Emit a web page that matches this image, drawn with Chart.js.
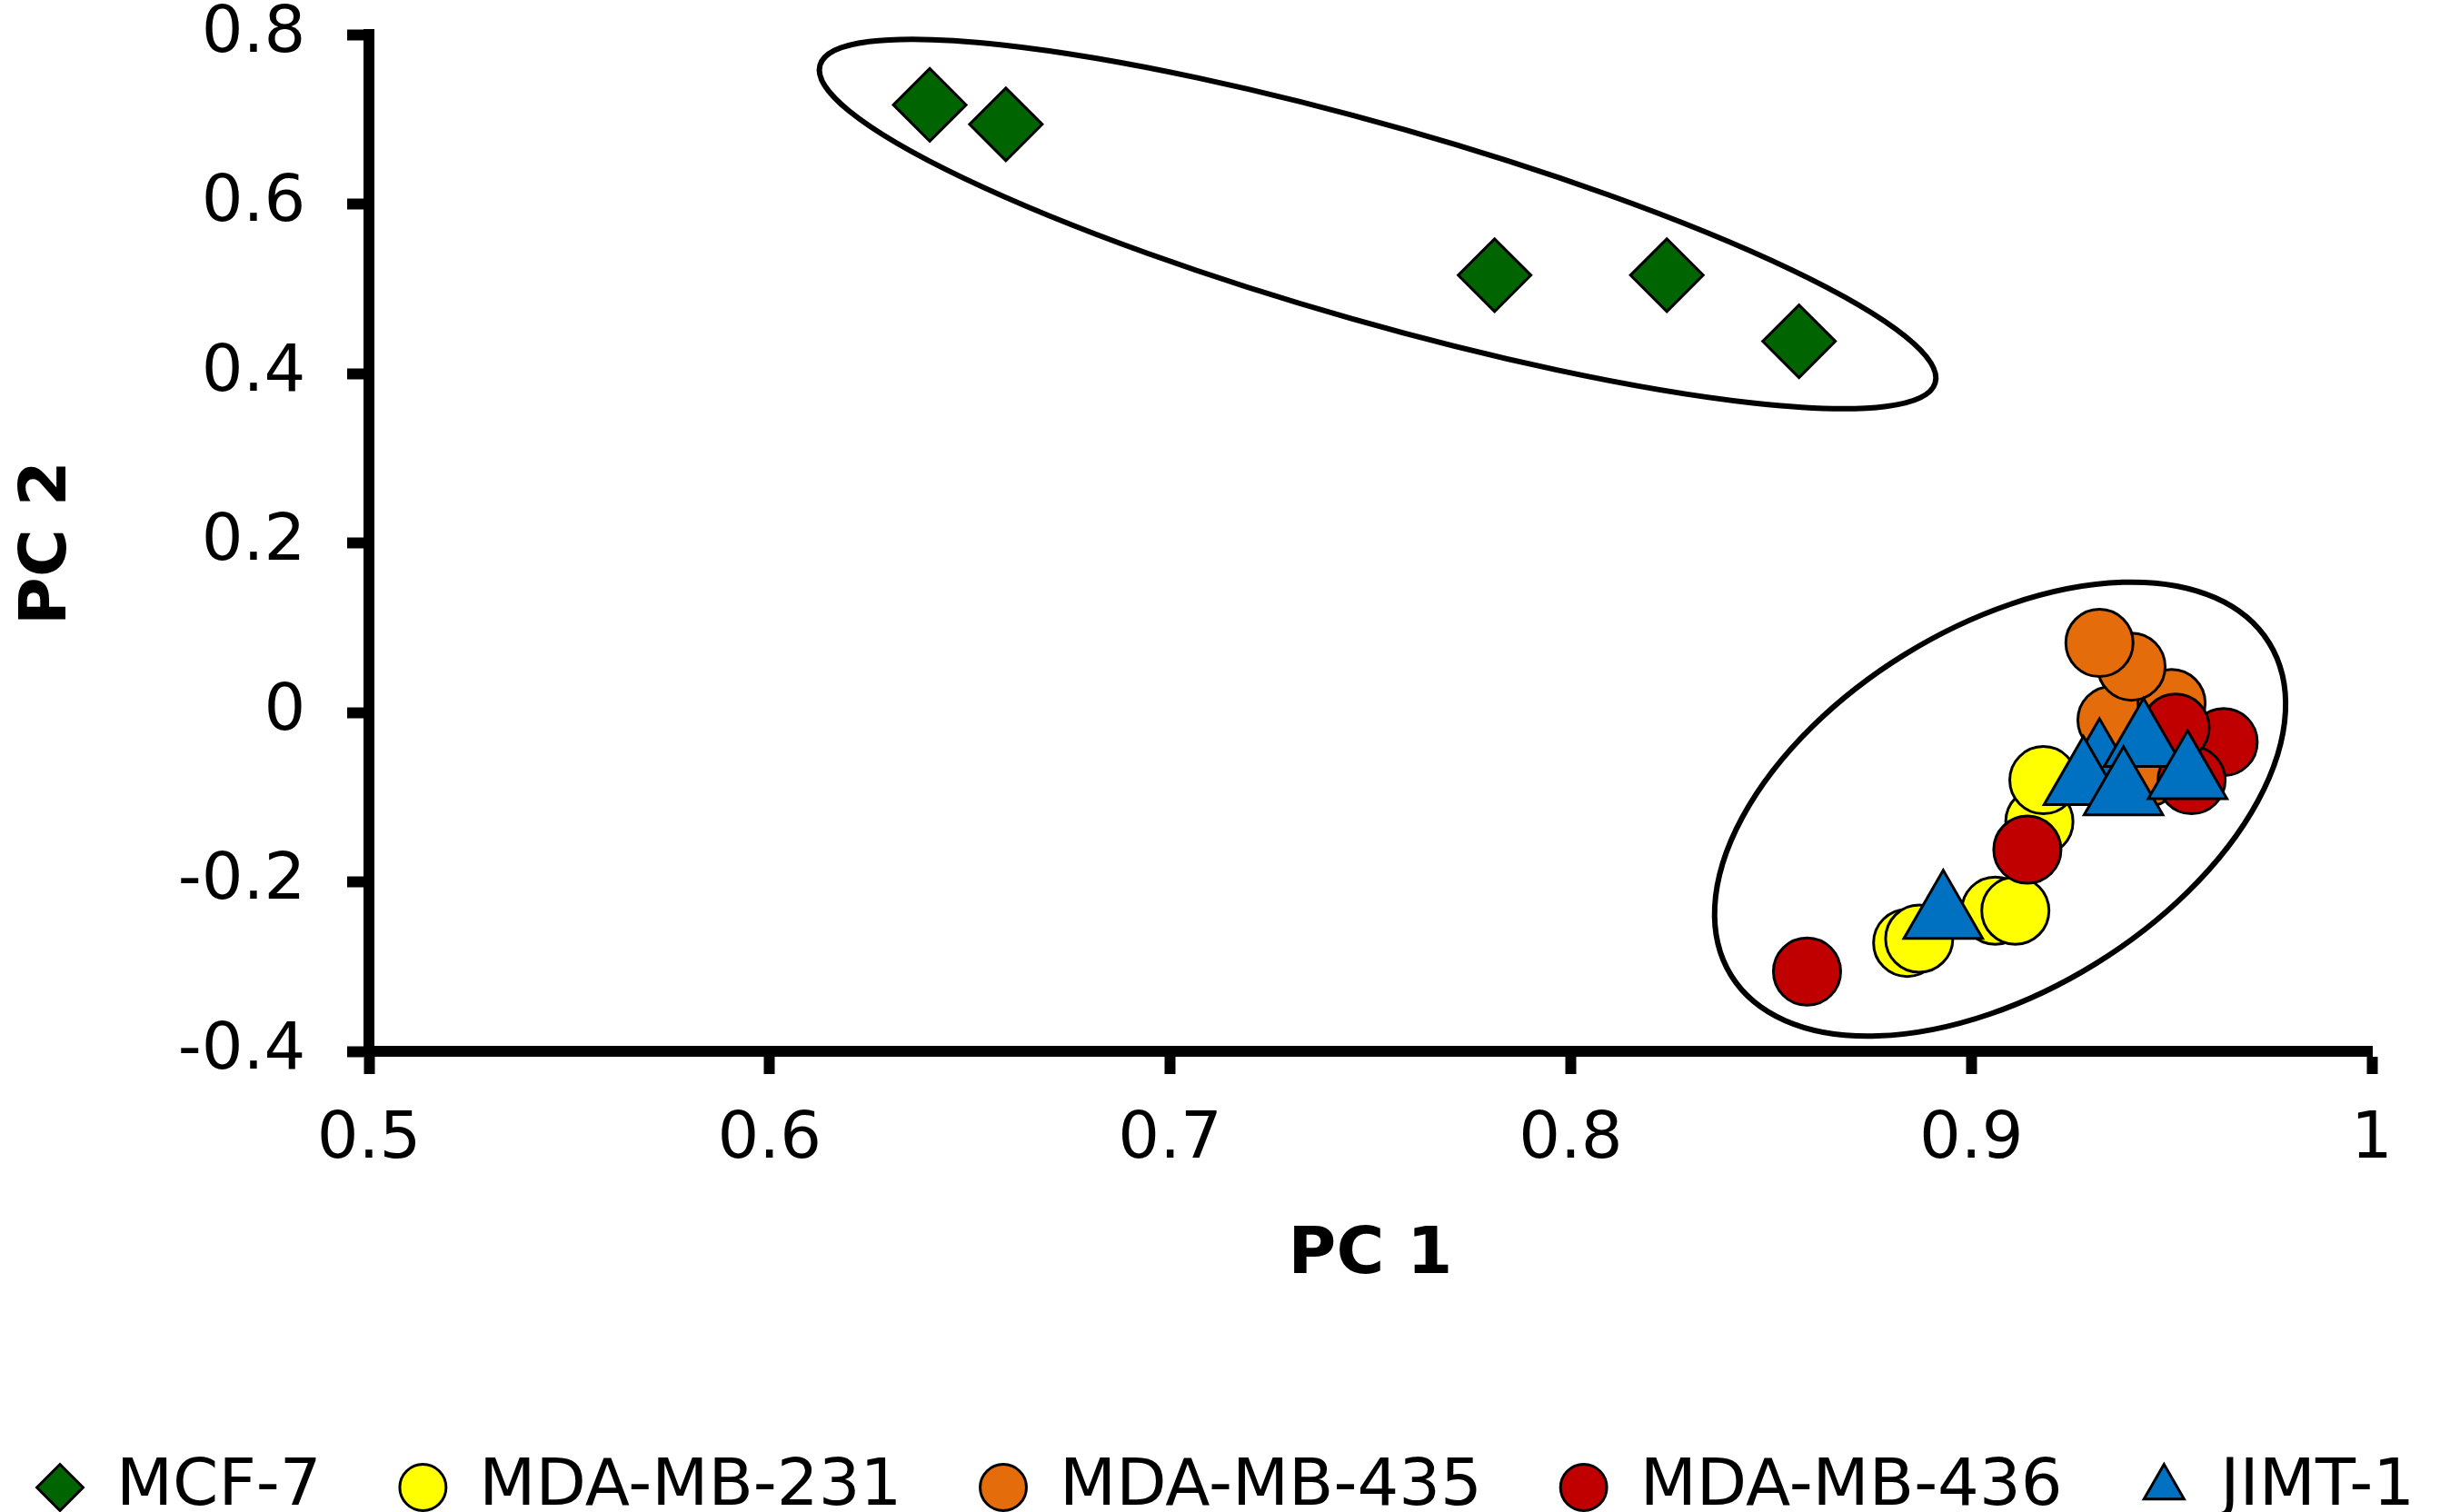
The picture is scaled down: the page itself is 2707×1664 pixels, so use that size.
<!DOCTYPE html>
<html lang="en">

<head>
    <meta charset="UTF-8">
    <title>PCA of breast cancer cell lines</title>
    <script src="https://cdn.jsdelivr.net/npm/chart.js@4.4.1/dist/chart.umd.min.js"></script>
    <style>
        body { margin: 0; background: #fff; overflow: hidden; }
    </style>
</head>

<body>

    <canvas id="pcaChart" width="2707" height="1664"></canvas>

    <script type="text/javascript">

        // cell lines (legend order)
        const cellLines = ['MCF-7', 'MDA-MB-231', 'MDA-MB-435', 'MDA-MB-436', 'JIMT-1'];

        // PC scores
        const mcf7PC1 = [0.640, 0.659, 0.781, 0.824, 0.857];
        const mcf7PC2 = [0.717, 0.694, 0.516, 0.516, 0.438];

        const mb231PC1 = [0.884, 0.887, 0.906, 0.911, 0.917, 0.918];
        const mb231PC2 = [-0.272, -0.267, -0.234, -0.234, -0.129, -0.080];

        const mb435PC1 = [0.944, 0.935, 0.950, 0.940, 0.932];
        const mb435PC2 = [-0.071, -0.009, 0.011, 0.054, 0.082];

        const mb436PC1 = [0.859, 0.914, 0.963, 0.955, 0.951];
        const mb436PC2 = [-0.306, -0.162, -0.035, -0.080, -0.018];

        const jimtPC1 = [0.893, 0.932, 0.943, 0.928, 0.938, 0.954];
        const jimtPC2 = [-0.240, -0.061, -0.037, -0.082, -0.094, -0.075];

        // axis ticks
        const pc1Ticks = [0.5, 0.6, 0.7, 0.8, 0.9, 1];
        const pc1TickLabels = ['0.5', '0.6', '0.7', '0.8', '0.9', '1'];
        const pc2Ticks = [-0.4, -0.2, 0, 0.2, 0.4, 0.6, 0.8];
        const pc2TickLabels = ['-0.4', '-0.2', '0', '0.2', '0.4', '0.6', '0.8'];

        // cluster outlines: centre in PC units, half axes in px, tilt in degrees
        const clusterCentrePC1 = [0.7518, 0.9072];
        const clusterCentrePC2 = [0.5764, -0.1142];
        const outlineStyle = [
            { rx: 638, ry: 108, tilt: 15.9 },
            { rx: 348, ry: 200, tilt: -31.7 }
        ];

        const FONT = '"DejaVu Sans", Verdana, sans-serif';
        Chart.defaults.font.family = FONT;
        Chart.defaults.color = '#000';

        function points(xs, ys) {
            return xs.map((x, i) => ({ x: x, y: ys[i] }));
        }

        const outlinePlugin = {
            id: 'clusterOutlines',
            beforeDatasetsDraw(chart) {
                const { ctx, scales } = chart;
                ctx.save();
                ctx.strokeStyle = '#000';
                ctx.lineWidth = 6;
                clusterCentrePC1.forEach((cx, i) => {
                    const px = scales.x.getPixelForValue(cx);
                    const py = scales.y.getPixelForValue(clusterCentrePC2[i]);
                    const s = outlineStyle[i];
                    ctx.beginPath();
                    ctx.ellipse(px, py, s.rx, s.ry, s.tilt * Math.PI / 180, 0, Math.PI * 2);
                    ctx.stroke();
                });
                ctx.restore();
            }
        };

        const LEGEND_PAD = 40;
        const BOTTOM_PAD = -19;

        // default legend items, with a little trailing space to spread them out
        function legendLabels(chart) {
            const items = Chart.defaults.plugins.legend.labels.generateLabels(chart);
            items.sort((a, b) => a.datasetIndex - b.datasetIndex);
            items.forEach((item, i) => {
                if (i < items.length - 1) item.text += '  ';
            });
            return items;
        }

        const ctx = document.getElementById('pcaChart').getContext('2d');
        const chart = new Chart(ctx, {
            type: 'scatter',
            data: {
                datasets: [{
                    label: cellLines[0],
                    data: points(mcf7PC1, mcf7PC2),
                    pointStyle: 'rectRot',
                    radius: 40,
                    backgroundColor: '#006400',
                    borderColor: '#000',
                    borderWidth: 3,
                    order: 4
                },
                {
                    label: cellLines[1],
                    data: points(mb231PC1, mb231PC2),
                    pointStyle: 'circle',
                    radius: 37,
                    backgroundColor: '#FFFF00',
                    borderColor: '#000',
                    borderWidth: 3,
                    order: 3
                },
                {
                    label: cellLines[2],
                    data: points(mb435PC1, mb435PC2),
                    pointStyle: 'circle',
                    radius: 37,
                    backgroundColor: '#E46C0A',
                    borderColor: '#000',
                    borderWidth: 3,
                    order: 2
                },
                {
                    label: cellLines[3],
                    data: points(mb436PC1, mb436PC2),
                    pointStyle: 'circle',
                    radius: 37,
                    backgroundColor: '#C00000',
                    borderColor: '#000',
                    borderWidth: 3,
                    order: 1
                },
                {
                    label: cellLines[4],
                    data: points(jimtPC1, jimtPC2),
                    pointStyle: 'triangle',
                    radius: 50,
                    backgroundColor: '#0070C0',
                    borderColor: '#000',
                    borderWidth: 3,
                    order: 0
                }]
            },
            options: {
                responsive: false,
                animation: false,
                devicePixelRatio: 1,
                events: [],
                layout: {
                    autoPadding: false,
                    padding: { top: 38, right: 0, bottom: BOTTOM_PAD, left: 0 }
                },
                plugins: {
                    tooltip: { enabled: false },
                    legend: {
                        position: 'bottom',
                        align: 'start',
                        labels: {
                            usePointStyle: true,
                            boxWidth: 52,
                            boxHeight: 36,
                            padding: LEGEND_PAD,
                            font: { size: 72 },
                            color: '#000',
                            generateLabels: legendLabels
                        }
                    }
                },
                scales: {
                    x: {
                        type: 'linear',
                        min: 0.5,
                        max: 1,
                        afterBuildTicks: s => { s.ticks = pc1Ticks.map(v => ({ value: v })); },
                        afterFit: s => { s.height = 1664 - BOTTOM_PAD - s.chart.legend.height - 1157; },
                        border: { display: true, color: '#000', width: 12 },
                        grid: { drawOnChartArea: false, drawTicks: true, tickLength: 25, tickWidth: 12, tickColor: '#000' },
                        ticks: {
                            autoSkip: false,
                            maxRotation: 0,
                            padding: 30,
                            font: { size: 72, lineHeight: 1.2 },
                            color: '#000',
                            callback: (v, i) => pc1TickLabels[i]
                        },
                        title: {
                            display: true,
                            text: 'PC 1',
                            color: '#000',
                            font: { size: 72, weight: 'bold', lineHeight: 1.2 },
                            padding: { top: 0, bottom: 136 }
                        }
                    },
                    y: {
                        type: 'linear',
                        min: -0.4,
                        max: 0.8,
                        afterBuildTicks: s => { s.ticks = pc2Ticks.map(v => ({ value: v })); },
                        afterFit: s => { s.width = 406; },
                        border: { display: true, color: '#000', width: 12 },
                        grid: { drawOnChartArea: false, drawTicks: true, tickLength: 24, tickWidth: 12, tickColor: '#000' },
                        ticks: {
                            autoSkip: false,
                            // gap to the tick marks comes from trailing spaces, so the
                            // top label does not push the plot area down
                            padding: 0,
                            font: { size: 72, lineHeight: 1 },
                            color: '#000',
                            callback: (v, i) => pc2TickLabels[i] + '  '
                        },
                        title: {
                            display: true,
                            text: 'PC 2',
                            color: '#000',
                            font: { size: 72, weight: 'bold', lineHeight: 1.2 },
                            padding: { top: 10, bottom: 0 }
                        }
                    },
                    // empty right-hand strip so the plot ends at PC1 = 1 like the original
                    yGap: {
                        type: 'linear',
                        position: 'right',
                        afterFit: s => { s.width = 97; },
                        ticks: { display: false },
                        grid: { display: false },
                        border: { display: false }
                    }
                }
            },
            plugins: [outlinePlugin]
        });

    </script>
</body>

</html>
